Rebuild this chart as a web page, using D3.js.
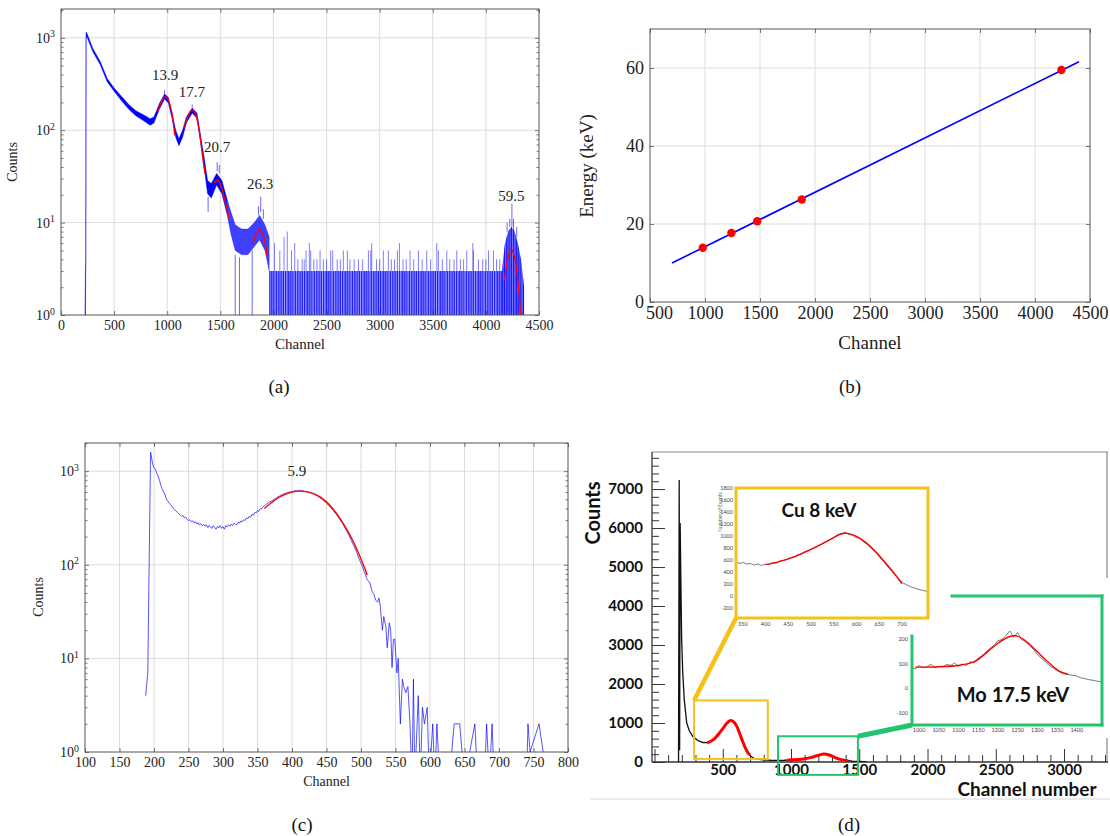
<!DOCTYPE html>
<html>
<head>
<meta charset="utf-8">
<script src="https://cdn.jsdelivr.net/npm/d3@7"></script>
<style>
  body { margin: 0; background: #fff; }
  .serif { font-family: "Liberation Serif", "LiberationSerif", "DejaVu Serif", "DejaVuSerif", "Tinos", "Noto Serif", "FreeSerif", "Times New Roman", Times, serif; }
  .sans  { font-family: Lato, "Open Sans", sans-serif; font-weight: bold; }
</style>
</head>
<body>
<svg id="fig" width="1110" height="836"></svg>
<script>
// ---------------------------------------------
// Four-panel X-ray spectrum figure (a)-(d)
// ---------------------------------------------

// ---- (a) calibration spectrum, log counts vs channel
const ticksA_x = [0, 500, 1000, 1500, 2000, 2500, 3000, 3500, 4000, 4500];
const decades  = [1, 10, 100, 1000];
// dense part of the spectrum: lower / upper edge of the noise band
const specA_ch = [226, 230, 233, 236, 245, 300, 370, 435, 500, 570, 640, 705, 775, 840, 875, 925, 975, 1010, 1045, 1080, 1110, 1145, 1180, 1235, 1280, 1315, 1350, 1380, 1415, 1465, 1515, 1560];
const specA_lo = [1, 1, 3, 1000, 1020, 705, 510, 335, 264, 208, 168, 143, 127, 113, 120, 168, 217, 198, 135, 84, 68, 84, 120, 153, 135, 72, 38, 20.5, 18.5, 25.5, 20.5, 12.8];
const specA_hi = [1, 3, 4, 1150, 1110, 765, 552, 362, 286, 232, 189, 162, 147, 133, 139, 193, 246, 227, 154, 100, 81, 100, 139, 174, 154, 86, 49, 28.5, 26.5, 34, 28.5, 18.5];
const tailA_ch = [1560, 1600, 1640, 1700, 1760, 1820, 1870, 1920, 1960];
const tailA_lo = [12.8, 7.5, 5, 4.5, 4.5, 5.5, 6.5, 5, 3];
const tailA_hi = [18.5, 13, 9.5, 8.5, 8.5, 10, 12, 9.5, 7];
const flatA_ch = [1960, 4160];
const flatA_lo = [1, 1];
const flatA_hi = [3, 3];
const peakA_ch = [4150, 4180, 4210, 4240, 4270, 4300, 4330, 4360];
const peakA_lo = [1, 1, 1, 1, 1, 1, 1, 1];
const peakA_hi = [3, 6, 8, 9, 8, 6, 4, 2];
// single-channel excursions (from -> to counts)
const segA_ch   = [975, 1235, 1385, 1470, 1490, 1640, 1680, 1800, 1860, 1880, 1905, 4200, 4225, 4245, 4260, 4290];
const segA_from = [240, 175, 19, 36, 34, 4.5, 4.2, 5, 12, 13, 11, 8, 9, 9, 8, 7];
const segA_to   = [270, 190, 13, 45, 42, 1, 1, 1, 15, 19, 14, 10, 11, 16, 11, 9];
const flatSpike_ch  = [2010, 2060, 2100, 2130, 2170, 2200, 2230, 2270, 2290, 2307, 2338, 2351, 2380, 2410, 2439, 2470, 2500, 2539, 2558, 2600, 2630, 2658, 2696, 2720, 2760, 2800, 2840, 2894, 2916, 2925, 2970, 3000, 3035, 3082, 3110, 3140, 3167, 3186, 3220, 3250, 3286, 3320, 3365, 3400, 3443, 3480, 3538, 3553, 3590, 3632, 3660, 3700, 3726, 3760, 3790, 3820, 3877, 3883, 3930, 3970, 4000, 4025, 4071, 4100, 4130];
const flatSpike_top = [6, 5, 7, 8, 5, 6, 4, 4, 4, 5, 6, 5, 4, 4, 5, 4, 4, 5, 5, 4, 4, 5, 5, 4, 4, 4, 4, 5, 5, 6, 4, 4, 5, 5, 4, 4, 5, 6, 4, 4, 5, 4, 5, 4, 5, 4, 6, 5, 4, 5, 4, 4, 5, 4, 4, 5, 6, 5, 4, 4, 4, 5, 5, 4, 4];
const fitsA = [
  [[909, 159], [930, 185], [955, 215], [983, 231], [1005, 218], [1030, 180], [1050, 140], [1071, 88]],
  [[1162, 105], [1185, 130], [1210, 155], [1236, 166], [1260, 155], [1285, 125], [1310, 85], [1335, 50], [1355, 34]],
  [[1443, 27], [1473, 29], [1500, 26], [1530, 20], [1560, 14.5], [1584, 11]],
  [[1811, 6], [1840, 7.6], [1872, 8.3], [1905, 7.2], [1939, 4.5]],
  [[4176, 2.4], [4200, 3.8], [4236, 5.2], [4270, 4.2], [4300, 2.4], [4328, 1]]
];
const peakA_text = ['13.9', '17.7', '20.7', '26.3', '59.5'];
const peakA_lx   = [980, 1233, 1470, 1875, 4240];
const peakA_ly   = [376, 252, 63, 25.2, 18.8];

// ---- (b) energy calibration
const ticksB_x = [500, 1000, 1500, 2000, 2500, 3000, 3500, 4000, 4500];
const ticksB_y = [0, 20, 40, 60];
const calCh = [980, 1240, 1475, 1880, 4240];
const calE  = [13.9, 17.7, 20.7, 26.3, 59.5];
const fitB_ch = [700, 4400];
const fitB_E  = [10.0, 61.6];

// ---- (c) low-energy spectrum
const ticksC_x = [100, 150, 200, 250, 300, 350, 400, 450, 500, 550, 600, 650, 700, 750, 800];
const specC = [[188,4],[191,7],[195,1600],[198,1200],[200,1080],[202,1050],[204,950],[206,880],[208,800],[210,700],[212,640],[214,600],[216,560],[218,500],[220,480],[222,455],[224,440],[226,420],[228,400],[230,385],[232,375],[234,362],[236,350],[238,342],[240,330],[242,335],[244,318],[246,322],[248,305],[250,298],[252,302],[254,290],[256,295],[258,280],[260,288],[262,272],[264,282],[266,266],[268,275],[270,262],[272,270],[274,258],[276,268],[278,250],[280,262],[282,255],[284,245],[286,262],[288,250],[290,240],[292,258],[294,248],[296,262],[298,245],[300,255],[302,240],[304,262],[306,255],[308,268],[310,258],[312,272],[314,262],[316,278],[318,270],[320,268],[322,285],[324,278],[326,295],[328,288],[330,302],[332,298],[334,318],[336,310],[338,330],[340,322],[342,345],[344,338],[346,362],[348,358],[350,380],[352,372],[354,398],[356,395],[358,418],[360,425],[362,440],[364,450],[366,462],[368,470],[370,480],[372,492],[374,500],[376,512],[378,520],[380,535],[382,542],[384,555],[386,560],[388,572],[390,578],[392,586],[394,590],[396,600],[398,598],[400,612],[402,605],[404,622],[406,610],[408,628],[410,615],[412,625],[414,612],[416,620],[418,605],[420,612],[422,598],[424,602],[426,585],[428,590],[430,570],[432,572],[434,555],[436,550],[438,532],[440,525],[442,508],[444,500],[446,482],[448,470],[450,455],[452,440],[454,425],[456,410],[458,392],[460,380],[462,362],[464,348],[466,330],[468,315],[470,300],[472,285],[474,268],[476,255],[478,238],[480,225],[482,210],[484,195],[486,182],[488,168],[490,158],[492,145],[494,135],[496,122],[498,112],[500,104],[502,96],[504,86],[506,80],[508,72],[510,68],[513,64],[516,52],[519,48],[521,42],[524,40],[526,44],[528,36],[531,20],[533,28],[536,22],[538,13],[541,24],[543,20],[545,8],[547,16],[549,16],[552,7],[554,10],[557,2],[560,6],[562,5],[565,4.3],[568,5],[571,2],[574,0],[576,6],[578,0],[583,4],[586,0],[589,3],[592,2],[596,3],[599,0],[604,2],[607,0],[610,2],[614,0],[628,0],[635,2],[643,2],[650,0],[665,2],[669,0],[679,0],[682,2],[686,0],[690,2],[693,0],[740,0],[742,2],[745,1],[758,2],[770,0]];
const fitC = [[360,400],[370,460],[380,520],[390,565],[400,598],[410,612],[420,605],[430,580],[440,535],[450,470],[460,390],[470,310],[480,235],[490,170],[500,115],[509,78]];

// ---- (d) ROOT-style spectrum with two zoomed insets
const ticksD_x = [0, 500, 1000, 1500, 2000, 2500, 3000];
const ticksD_y = [0, 1000, 2000, 3000, 4000, 5000, 6000, 7000];
const specD = [[176,0],[181,7230],[184,300],[188,6130],[193,4700],[199,3130],[207,2280],[218,1600],[236,1000],[255,800],[283,640],[320,550],[355,500],[385,495],[410,520],[440,600],[470,720],[500,860],[530,1000],[550,1060],[565,1068],[585,1010],[605,900],[625,720],[645,530],[665,350],[685,220],[705,145],[730,95],[760,68],[800,52],[850,45],[900,42],[950,45],[1000,55],[1050,65],[1100,85],[1150,120],[1200,175],[1240,205],[1280,180],[1320,120],[1360,70],[1400,40],[1450,25],[1500,15],[1557,0]];
const fitD_cu = [[385,495],[410,525],[440,600],[470,720],[500,855],[530,995],[550,1052],[565,1062],[585,1010],[605,900],[625,720],[645,535],[665,360],[685,235],[700,180]];
const fitD_mo = [[975,52],[1050,63],[1100,82],[1150,118],[1200,172],[1240,205],[1280,178],[1320,118],[1360,68],[1400,40],[1420,32]];
const zoomCu = [290, 830, 80, 1580];     // channel / counts window of the Cu inset
const zoomMo = [905, 1490, -330, 660];   // channel / counts window of the Mo inset
const cuTicks_x = [350, 400, 450, 500, 550, 600, 650, 700];
const cuTicks_y = [-200, 0, 200, 400, 600, 800, 1000, 1200, 1400, 1600, 1800];
const cuSpec = [[335,585],[343,560],[351,575],[359,548],[367,560],[375,530],[383,552],[391,525],[399,548],[407,540],[415,575],[423,560],[431,600],[439,610],[447,625],[455,660],[463,670],[471,705],[479,720],[487,760],[495,770],[503,810],[511,830],[519,870],[527,890],[535,930],[543,960],[551,1000],[559,1040],[567,1050],[575,1080],[583,1040],[591,1030],[599,990],[607,980],[615,920],[623,880],[631,820],[639,760],[647,700],[655,620],[663,560],[671,480],[679,420],[687,350],[695,290],[703,230],[711,200],[719,170],[727,150],[735,130],[743,115],[751,100],[757,90]];
const cuFit = [[400,540],[430,590],[460,660],[490,760],[520,870],[550,990],[565,1050],[580,1060],[600,1010],[620,910],[640,770],[660,600],[680,420],[700,220]];
const moTicks_x = [1000, 1050, 1100, 1150, 1200, 1250, 1300, 1350, 1400];
const moTicks_y = [-100, 0, 100, 200];
const moSpec = [[982,90],[990,80],[1000,95],[1010,85],[1020,90],[1030,100],[1040,85],[1050,92],[1060,88],[1070,100],[1080,95],[1090,105],[1100,92],[1110,100],[1120,95],[1130,110],[1140,105],[1150,125],[1160,135],[1170,150],[1180,165],[1190,175],[1200,195],[1210,200],[1220,215],[1230,235],[1240,210],[1250,228],[1260,200],[1270,190],[1280,175],[1290,160],[1300,140],[1310,125],[1320,110],[1330,95],[1340,85],[1350,75],[1360,65],[1370,60],[1380,58],[1390,55],[1400,52],[1410,45],[1420,42],[1430,38],[1440,35],[1450,32],[1464,28]];
const moFit = [[990,88],[1050,90],[1100,95],[1140,110],[1170,145],[1200,185],[1230,212],[1245,215],[1270,195],[1300,150],[1330,105],[1355,72],[1378,60]];

// --------------------------------------------------
const BLUE = '#0000ff', RED = '#ff0000', GRID = '#d9d9d9', FRAME = '#555';
const YEL = '#f5c21b', GRN = '#22c46e';
const fmt = d3.format('d');

const svg  = d3.select('#fig');
const defs = svg.append('defs');

// irregular vertical hatching: look of thousands of 0-3 count channels
const hatch = defs.append('pattern').attr('id', 'hatch')
  .attr('width', 19).attr('height', 10).attr('patternUnits', 'userSpaceOnUse');
[[0, 1.0], [1.8, 0.7], [3.1, 1.3], [5.2, 0.8], [6.6, 1.1], [8.6, 0.6], [9.9, 1.2], [12.0, 0.8], [13.5, 1.0], [15.3, 0.7], [16.7, 1.3]].forEach(([x, w]) =>
  hatch.append('rect').attr('x', x).attr('width', w).attr('height', 10).attr('fill', BLUE).attr('fill-opacity', 0.8));

function clip(id, x, y, w, h) {
  defs.append('clipPath').attr('id', id).append('rect')
    .attr('x', x).attr('y', y).attr('width', w).attr('height', h);
  return `url(#${id})`;
}

function cleanAxis(sel, size, keepText) {
  sel.attr('font-family', null);
  sel.select('.domain').remove();
  sel.selectAll('.tick line').attr('stroke', FRAME).attr('stroke-width', 0.8);
  if (keepText) sel.selectAll('.tick text').attr('class', 'serif').attr('font-size', size).attr('fill', '#222');
  else sel.selectAll('.tick text').remove();
}

// grid, inward ticks and frame of a pgfplots-like axis
function pgfFrame(g, x, y, xt, yt, ym, size, logY) {
  const [l, r] = x.range(), [b, t] = y.range();
  g.append('g').selectAll('line').data(xt.filter(d => x(d) > l + 1 && x(d) < r - 1)).join('line')
    .attr('x1', d => x(d)).attr('x2', d => x(d)).attr('y1', b).attr('y2', t)
    .attr('stroke', GRID).attr('stroke-width', 0.9);
  g.append('g').selectAll('line').data(yt.filter(d => y(d) < b - 1 && y(d) > t + 1)).join('line')
    .attr('y1', d => y(d)).attr('y2', d => y(d)).attr('x1', l).attr('x2', r)
    .attr('stroke', GRID).attr('stroke-width', 0.9);

  g.append('g').attr('transform', `translate(0,${b})`)
    .call(d3.axisBottom(x).tickValues(xt).tickFormat(fmt).tickSize(-4).tickPadding(size > 15 ? 4 : 5))
    .call(cleanAxis, size, true);
  g.append('g').attr('transform', `translate(0,${t})`)
    .call(d3.axisTop(x).tickValues(xt).tickSize(-4)).call(cleanAxis, size, false);

  const left = d3.axisLeft(y).tickValues(yt).tickSize(-4).tickPadding(6).tickFormat(fmt);
  if (logY) left.tickFormat(() => '');
  const la = g.append('g').attr('transform', `translate(${l},0)`).call(left).call(cleanAxis, size, true);
  if (logY) {
    la.selectAll('.tick text').each(function (d) {
      const s = d3.select(this);
      s.append('tspan').text('10');
      s.append('tspan').attr('dy', '-0.55em').attr('font-size', '0.7em').text(Math.round(Math.log10(d)));
    });
  }
  g.append('g').attr('transform', `translate(${r},0)`)
    .call(d3.axisRight(y).tickValues(yt).tickSize(-4)).call(cleanAxis, size, false);
  if (ym) {
    g.append('g').attr('transform', `translate(${l},0)`)
      .call(d3.axisLeft(y).tickValues(ym).tickSize(-2.5)).call(cleanAxis, size, false);
    g.append('g').attr('transform', `translate(${r},0)`)
      .call(d3.axisRight(y).tickValues(ym).tickSize(-2.5)).call(cleanAxis, size, false);
  }
}

function drawFrame(g, x, y) {
  const [l, r] = x.range(), [b, t] = y.range();
  g.append('rect').attr('x', l).attr('y', t).attr('width', r - l).attr('height', b - t)
    .attr('fill', 'none').attr('stroke', FRAME).attr('stroke-width', 1);
}

function logMinors(top) {
  const m = [];
  decades.forEach(d => { for (let k = 2; k < 10; k++) if (d * k <= top) m.push(d * k); });
  return m;
}

function serifText(g, size) {
  return g.append('text').attr('class', 'serif').attr('font-size', size).attr('fill', '#222').attr('text-anchor', 'middle');
}

// ==================================================
// (a)
// ==================================================
{
  const A = { l: 61, r: 539, t: 9, b: 315 };
  const x = d3.scaleLinear().domain([0, 4500]).range([A.l, A.r]);
  const y = d3.scaleLog().domain([1, 2050]).range([A.b, A.t]);
  const g = svg.append('g');
  pgfFrame(g, x, y, ticksA_x, decades, logMinors(2050), 14, true);

  const data = g.append('g').attr('clip-path', clip('clipA', A.l, A.t, A.r - A.l, A.b - A.t));
  const band = (ch, lo, hi) => d3.area()
    .x((d, i) => x(ch[i])).y0((d, i) => y(lo[i])).y1((d, i) => y(hi[i]))(ch);

  data.append('path').attr('d', band(specA_ch, specA_lo, specA_hi))
    .attr('fill', BLUE).attr('stroke', BLUE).attr('stroke-width', 0.8).attr('stroke-opacity', 0.6);
  data.append('path').attr('d', band(tailA_ch, tailA_lo, tailA_hi))
    .attr('fill', BLUE).attr('fill-opacity', 0.75).attr('stroke', BLUE).attr('stroke-width', 0.6).attr('stroke-opacity', 0.5);
  [[flatA_ch, flatA_lo, flatA_hi], [peakA_ch, peakA_lo, peakA_hi]].forEach(([c, lo, hi], k) => {
    const d = band(c, lo, hi);
    data.append('path').attr('d', d).attr('fill', BLUE).attr('fill-opacity', k ? 0.55 : 0.4);
    data.append('path').attr('d', d).attr('fill', 'url(#hatch)');
  });

  data.append('g').selectAll('line').data(flatSpike_ch).join('line')
    .attr('x1', d => x(d)).attr('x2', d => x(d))
    .attr('y1', y(3)).attr('y2', (d, i) => y(flatSpike_top[i]))
    .attr('stroke', BLUE).attr('stroke-opacity', 0.5).attr('stroke-width', 1);
  data.append('g').selectAll('line').data(segA_ch).join('line')
    .attr('x1', d => x(d)).attr('x2', d => x(d))
    .attr('y1', (d, i) => y(segA_from[i])).attr('y2', (d, i) => y(segA_to[i]))
    .attr('stroke', BLUE).attr('stroke-opacity', 0.6).attr('stroke-width', 1);

  const fitLine = d3.line().x(d => x(d[0])).y(d => y(d[1])).curve(d3.curveCatmullRom);
  data.append('g').selectAll('path').data(fitsA).join('path')
    .attr('d', fitLine).attr('fill', 'none').attr('stroke', RED).attr('stroke-width', 1.3);

  drawFrame(g, x, y);

  g.append('g').selectAll('text').data(peakA_text).join('text')
    .attr('class', 'serif')
    .attr('x', (d, i) => x(peakA_lx[i])).attr('y', (d, i) => y(peakA_ly[i]))
    .attr('text-anchor', 'middle').attr('dominant-baseline', 'middle')
    .attr('font-size', 15).attr('fill', '#222').text(d => d);

  serifText(g, 14).attr('transform', 'translate(17,162) rotate(-90)').text('Counts');
  serifText(g, 15).attr('x', (A.l + A.r) / 2).attr('y', 349).text('Channel');
}

// ==================================================
// (b)
// ==================================================
{
  const B = { l: 650, r: 1090, t: 29, b: 302 };
  const x = d3.scaleLinear().domain([500, 4500]).range([B.l, B.r]);
  const y = d3.scaleLinear().domain([0, 70]).range([B.b, B.t]);
  const g = svg.append('g');
  pgfFrame(g, x, y, ticksB_x, ticksB_y, null, 18, false);
  // first channel label sits clear of the "0"
  g.selectAll('.tick text').filter(d => d === 500).attr('dx', 9);

  g.append('path')
    .datum(fitB_ch)
    .attr('d', d3.line().x(d => x(d)).y((d, i) => y(fitB_E[i])))
    .attr('fill', 'none').attr('stroke', BLUE).attr('stroke-width', 1.6);
  g.append('g').selectAll('circle').data(calCh).join('circle')
    .attr('cx', d => x(d)).attr('cy', (d, i) => y(calE[i])).attr('r', 4.2).attr('fill', RED);

  drawFrame(g, x, y);
  serifText(g, 19).attr('transform', 'translate(593,166) rotate(-90)').text('Energy (keV)');
  serifText(g, 19).attr('x', (B.l + B.r) / 2).attr('y', 349).text('Channel');
}

// ==================================================
// (c)
// ==================================================
{
  const C = { l: 85, r: 568, t: 443, b: 752 };
  const x = d3.scaleLinear().domain([100, 800]).range([C.l, C.r]);
  const y = d3.scaleLog().domain([1, 2000]).range([C.b, C.t]);
  const g = svg.append('g');
  pgfFrame(g, x, y, ticksC_x, decades, logMinors(2000), 14, true);

  const data = g.append('g').attr('clip-path', clip('clipC', C.l, C.t, C.r - C.l, C.b - C.t));
  const line = d3.line().x(d => x(d[0])).y(d => y(Math.max(d[1], 0.5)));
  data.append('path').attr('d', line(specC))
    .attr('fill', 'none').attr('stroke', BLUE).attr('stroke-opacity', 0.75).attr('stroke-width', 0.9);
  data.append('path').attr('d', line.curve(d3.curveCatmullRom)(fitC))
    .attr('fill', 'none').attr('stroke', RED).attr('stroke-width', 1.4);

  drawFrame(g, x, y);
  serifText(g, 15).attr('x', x(407)).attr('y', y(975)).attr('dominant-baseline', 'middle').text('5.9');
  serifText(g, 14).attr('transform', 'translate(43,597) rotate(-90)').text('Counts');
  serifText(g, 14).attr('x', (C.l + C.r) / 2).attr('y', 786).text('Channel');
}

// ==================================================
// (d)
// ==================================================
{
  const D = { l: 652, r: 1108, t: 452, b: 762 };
  const x = d3.scaleLinear().domain([0, 3322]).range([654.5, 1108]);
  const y = d3.scaleLinear().domain([0, 7950]).range([762, 452]);
  const g = svg.append('g');
  const bold = s => s.attr('class', 'sans').attr('fill', '#111');

  // frame
  g.append('line').attr('x1', D.l).attr('x2', D.r).attr('y1', D.t).attr('y2', D.t).attr('stroke', '#888').attr('stroke-width', 1.2);
  g.append('line').attr('x1', D.r - 1).attr('x2', D.r - 1).attr('y1', D.t).attr('y2', D.b).attr('stroke', '#888').attr('stroke-width', 1.2);

  const axisStyle = (s, keep) => {
    s.attr('font-family', null);
    s.select('.domain').remove();
    s.selectAll('.tick line').attr('stroke', '#333').attr('stroke-width', 1);
    if (keep) s.selectAll('.tick text').attr('font-size', 15).call(bold);
    else s.selectAll('.tick text').remove();
  };
  const yMinor = d3.range(200, 7900, 200).filter(v => v % 1000);
  const xMinor = d3.range(100, 3322, 100).filter(v => v % 500);
  g.append('g').attr('transform', `translate(${D.l},0)`)
    .call(d3.axisLeft(y).tickValues(ticksD_y).tickFormat(fmt).tickSize(-13).tickPadding(9)).call(axisStyle, true);
  g.append('g').attr('transform', `translate(${D.l},0)`)
    .call(d3.axisLeft(y).tickValues(yMinor).tickSize(-7)).call(axisStyle, false);
  const xa = g.append('g').attr('transform', `translate(0,${D.b})`)
    .call(d3.axisBottom(x).tickValues(ticksD_x).tickFormat(fmt).tickSize(-13).tickPadding(2)).call(axisStyle, true);
  xa.selectAll('.tick text').filter(d => d === 0).attr('clip-path', clip('clipD0', 651, 760, 30, 30));
  g.append('g').attr('transform', `translate(0,${D.b})`)
    .call(d3.axisBottom(x).tickValues(xMinor).tickSize(-7)).call(axisStyle, false);
  g.append('line').attr('x1', D.l).attr('x2', D.l).attr('y1', D.t).attr('y2', D.b).attr('stroke', '#333').attr('stroke-width', 1.3);
  g.append('line').attr('x1', D.l).attr('x2', D.r).attr('y1', D.b).attr('y2', D.b).attr('stroke', '#333').attr('stroke-width', 1.3);

  const data = g.append('g').attr('clip-path', clip('clipD', D.l, D.t, D.r - D.l, D.b - D.t));
  const line = d3.line().x(d => x(d[0])).y(d => y(d[1]));
  data.append('path').attr('d', line(specD)).attr('fill', 'none').attr('stroke', '#111').attr('stroke-width', 1.3);
  const fitLine = d3.line().x(d => x(d[0])).y(d => y(d[1])).curve(d3.curveCatmullRom);
  [fitD_cu, fitD_mo].forEach(f => data.append('path').attr('d', fitLine(f))
    .attr('fill', 'none').attr('stroke', RED).attr('stroke-width', 3));

  // zoom windows on the main spectrum
  const win = (w, c) => g.append('rect')
    .attr('x', x(w[0])).attr('y', y(w[3])).attr('width', x(w[1]) - x(w[0])).attr('height', y(w[2]) - y(w[3]))
    .attr('fill', 'none').attr('stroke', c).attr('stroke-width', 2);
  win(zoomCu, YEL);
  win(zoomMo, GRN);

  // ---- inset drawing helper
  function inset(box, bg, xs, ys, spec, fit, xt, yt, xtY, ytX) {
    g.append('rect').attr('x', bg[0]).attr('y', bg[1]).attr('width', bg[2]).attr('height', bg[3]).attr('fill', '#fff');
    const id = 'clip' + box.join('_').replace(/\./g, '');
    const gi = g.append('g').attr('clip-path', clip(id, box[0], box[1], box[2] - box[0], box[3] - box[1]));
    const ln = d3.line().x(d => xs(d[0])).y(d => ys(d[1]));
    gi.append('path').attr('d', ln(spec)).attr('fill', 'none').attr('stroke', '#555').attr('stroke-width', 0.8);
    gi.append('path').attr('d', ln.curve(d3.curveCatmullRom)(fit)).attr('fill', 'none').attr('stroke', RED).attr('stroke-width', 1.4);
    g.append('g').selectAll('text').data(xt).join('text')
      .attr('x', d => xs(d)).attr('y', xtY).attr('text-anchor', 'middle')
      .attr('font-family', 'Lato, sans-serif').attr('font-size', 5.5).attr('fill', '#444').text(d => d);
    g.append('g').selectAll('text').data(yt).join('text')
      .attr('x', ytX).attr('y', d => ys(d)).attr('text-anchor', 'end').attr('dominant-baseline', 'middle')
      .attr('font-family', 'Lato, sans-serif').attr('font-size', 5.5).attr('fill', '#444').text(d => d);
  }

  // Mo inset (drawn first: the Cu inset overlaps its top-left corner)
  const xMo = d3.scaleLinear().domain([982, 1464]).range([912, 1102]);
  const yMo = d3.scaleLinear().domain([-146, 376]).range([725, 596]);
  inset([912, 596, 1102, 725], [893, 578, 217, 160], xMo, yMo, moSpec, moFit, moTicks_x, moTicks_y, 732, 908);
  const gl = [[912, 636, 912, 725], [912, 725, 1102, 725], [1102, 596, 1102, 725], [952, 596, 1102, 596]];
  g.append('g').selectAll('line').data(gl).join('line')
    .attr('x1', d => d[0]).attr('y1', d => d[1]).attr('x2', d => d[2]).attr('y2', d => d[3])
    .attr('stroke', GRN).attr('stroke-width', 3).attr('stroke-linecap', 'square');
  g.append('line').attr('x1', x(zoomMo[1])).attr('y1', y(zoomMo[3])).attr('x2', 912).attr('y2', 725)
    .attr('stroke', GRN).attr('stroke-width', 5);
  g.append('text').attr('x', 1013).attr('y', 697).attr('text-anchor', 'middle').attr('dominant-baseline', 'middle')
    .attr('font-size', 20).call(bold).text('Mo 17.5 keV');

  // Cu inset
  const xCu = d3.scaleLinear().domain([335, 757]).range([736, 928]);
  const yCu = d3.scaleLinear().domain([-350, 1817]).range([618, 488]);
  inset([736, 488, 928, 618], [712, 482, 220, 148], xCu, yCu, cuSpec, cuFit, cuTicks_x, cuTicks_y, 626, 733);
  g.append('text').attr('transform', 'translate(722,512) rotate(-90)').attr('text-anchor', 'middle')
    .attr('font-family', 'Lato, sans-serif').attr('font-size', 5).attr('fill', '#666').text('Number of Events');
  g.append('rect').attr('x', 736).attr('y', 488).attr('width', 192).attr('height', 130)
    .attr('fill', 'none').attr('stroke', YEL).attr('stroke-width', 3);
  g.append('line').attr('x1', x(zoomCu[0])).attr('y1', y(zoomCu[3])).attr('x2', 736).attr('y2', 618)
    .attr('stroke', YEL).attr('stroke-width', 4.5);
  g.append('text').attr('x', 819).attr('y', 512).attr('text-anchor', 'middle').attr('dominant-baseline', 'middle')
    .attr('font-size', 19).call(bold).text('Cu 8 keV');

  g.append('text').attr('transform', 'translate(600,513) rotate(-90)').attr('text-anchor', 'middle')
    .attr('font-size', 20).call(bold).text('Counts');
  g.append('text').attr('x', 1027).attr('y', 796).attr('text-anchor', 'middle')
    .attr('font-size', 19).call(bold).text('Channel number');
  svg.append('line').attr('x1', 590).attr('x2', 1110).attr('y1', 799).attr('y2', 799).attr('stroke', '#d8d8d8');
}

// ---- sub-figure captions
const captions = ['(a)', '(b)', '(c)', '(d)'];
const capX = [279, 850, 302, 849];
const capY = [393, 393, 831, 831];
svg.append('g').selectAll('text').data(captions).join('text')
  .attr('class', 'serif')
  .attr('x', (d, i) => capX[i]).attr('y', (d, i) => capY[i]).attr('text-anchor', 'middle')
  .attr('font-size', 19).attr('fill', '#111').text(d => d);
</script>
</body>
</html>
